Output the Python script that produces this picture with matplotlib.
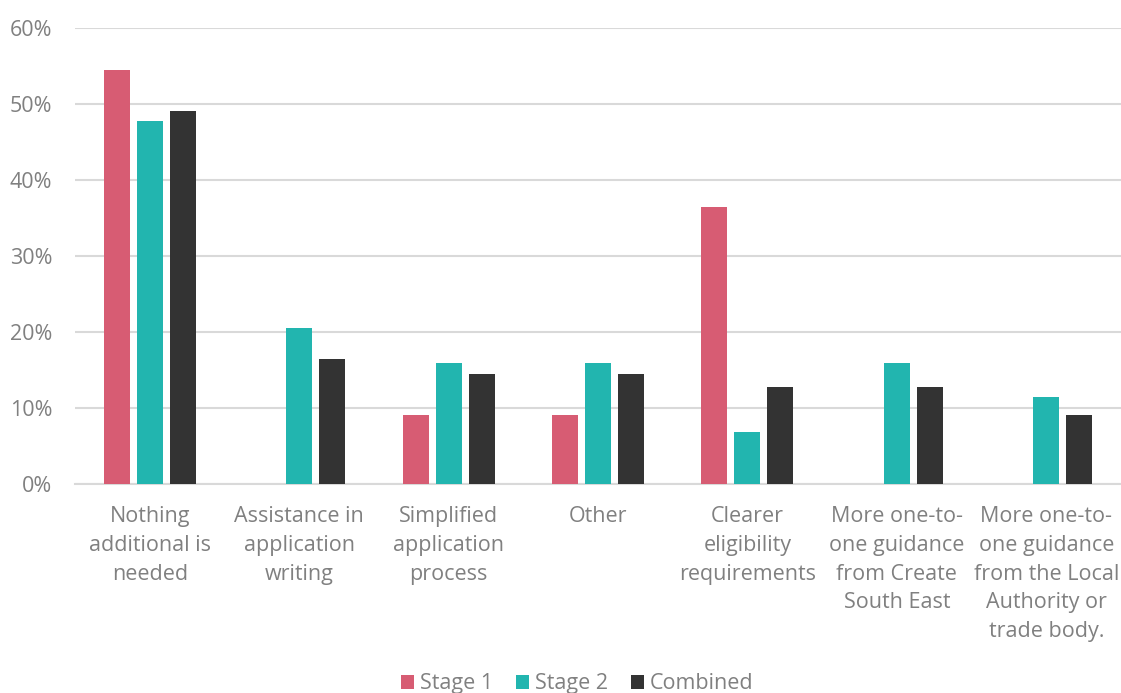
import matplotlib
matplotlib.use("Agg")
import matplotlib.pyplot as plt
import numpy as np

categories = [
    "Nothing\nadditional is\nneeded",
    "Assistance in\napplication\nwriting",
    "Simplified\napplication\nprocess",
    "Other",
    "Clearer\neligibility\nrequirements",
    "More one-to-\none guidance\nfrom Create\nSouth East",
    "More one-to-\none guidance\nfrom the Local\nAuthority or\ntrade body.",
]
series_names = ["Stage 1", "Stage 2", "Combined"]
stage1 = [54.5, 0.0, 9.1, 9.1, 36.4, 0.0, 0.0]
stage2 = [47.7, 20.5, 15.9, 15.9, 6.8, 15.9, 11.4]
combined = [49.1, 16.4, 14.5, 14.5, 12.7, 12.7, 9.1]
yticks = [0, 10, 20, 30, 40, 50, 60]
colors = ["#D75C73", "#22B5AF", "#333333"]

plt.rcParams["font.family"] = ["Open Sans", "DejaVu Sans"]
text_color = "#808080"
grid_color = "#D9D9D9"
fs = 15.5

fig = plt.figure(figsize=(11.21, 6.93), dpi=100)
ax = fig.add_axes([75 / 1121, 1 - 484 / 693, 1 - 75 / 1121, (484 - 28) / 693])

x = np.arange(len(categories))
width = 0.174
offset = 0.221
for i, (vals, name) in enumerate(zip([stage1, stage2, combined], series_names)):
    ax.bar(x + (i - 1) * offset, vals, width, color=colors[i], label=name, zorder=3)

ax.set_xlim(-0.5, len(categories) - 0.5)
ax.set_ylim(0, 60)
ax.set_yticks(yticks)
ax.set_yticklabels([f"{t}%" for t in yticks])
ax.set_xticks(x)
ax.set_xticklabels(categories, linespacing=1.48)

ax.grid(axis="y", color=grid_color, linewidth=1.5, zorder=0)
for s in ["top", "right", "left"]:
    ax.spines[s].set_visible(False)
ax.spines["bottom"].set_color(grid_color)
ax.spines["bottom"].set_linewidth(1.5)
ax.tick_params(axis="both", length=0, colors=text_color, labelsize=fs)
ax.tick_params(axis="y", pad=16.5)
ax.tick_params(axis="x", pad=16)

fig.legend(loc="lower center", bbox_to_anchor=(0.515, -0.03), ncol=3, frameon=False,
           handlelength=0.6, handleheight=0.6, handletextpad=0.25, columnspacing=1.1,
           prop={"size": fs}, labelcolor=text_color)

fig.savefig("out.png", dpi=100)
